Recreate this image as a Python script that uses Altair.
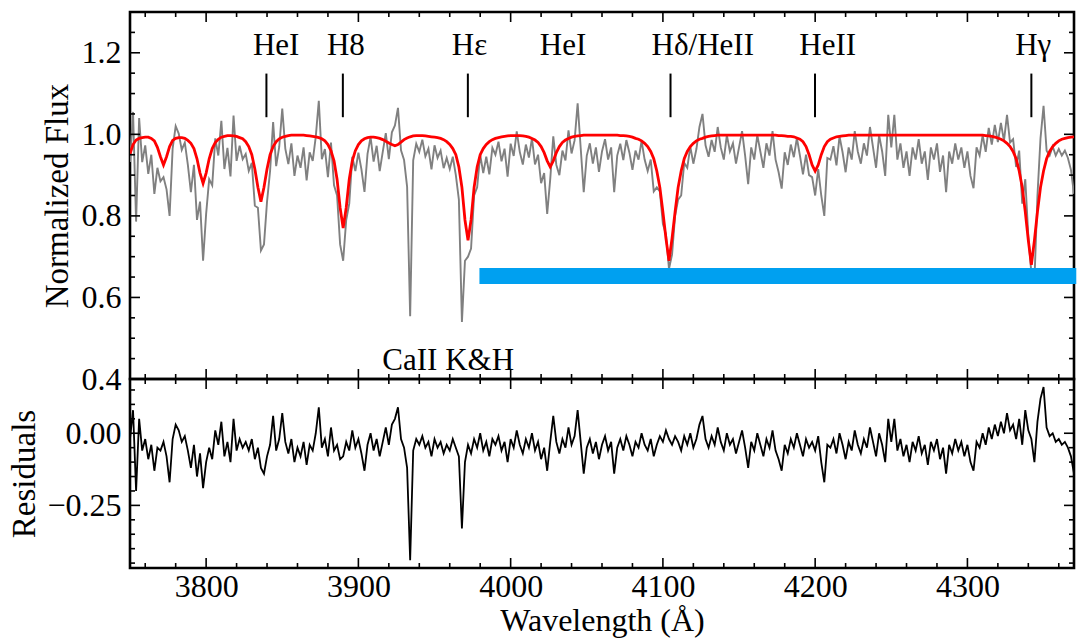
import altair as alt
import pandas as pd

# ---------------- data ----------------
WL_START = 3750   # first sampled wavelength (Angstrom)
WL_STEP = 2       # sampling step (Angstrom)

# best-fit model (red line), one value per sample
model = [
    0.952, 0.975, 0.986, 0.990, 0.992, 0.993, 0.993, 0.990, 0.984, 0.968,
    0.945, 0.925, 0.945, 0.970, 0.985, 0.990, 0.992, 0.992, 0.990, 0.985,
    0.978, 0.965, 0.940, 0.905, 0.880, 0.905, 0.940, 0.965, 0.980, 0.988,
    0.993, 0.995, 0.997, 0.997, 0.996, 0.995, 0.992, 0.989, 0.982, 0.970,
    0.950, 0.915, 0.870, 0.835, 0.870, 0.915, 0.950, 0.970, 0.982, 0.989,
    0.993, 0.995, 0.997, 0.998, 0.998, 0.998, 0.998, 0.998, 0.997, 0.996,
    0.995, 0.994, 0.992, 0.989, 0.984, 0.975, 0.960, 0.935, 0.890, 0.820,
    0.770, 0.820, 0.890, 0.935, 0.960, 0.975, 0.984, 0.989, 0.992, 0.993,
    0.993, 0.992, 0.990, 0.987, 0.983, 0.979, 0.975, 0.972, 0.975, 0.981,
    0.987, 0.991, 0.994, 0.996, 0.997, 0.997, 0.997, 0.996, 0.995, 0.994,
    0.993, 0.992, 0.990, 0.987, 0.982, 0.975, 0.965, 0.950, 0.920, 0.870,
    0.790, 0.740, 0.790, 0.870, 0.920, 0.950, 0.965, 0.975, 0.982, 0.987,
    0.990, 0.992, 0.994, 0.995, 0.996, 0.997, 0.997, 0.997, 0.997, 0.996,
    0.995, 0.993, 0.990, 0.986, 0.980, 0.970, 0.955, 0.935, 0.920, 0.935,
    0.955, 0.970, 0.980, 0.986, 0.990, 0.993, 0.995, 0.996, 0.997, 0.998,
    0.998, 0.998, 0.998, 0.998, 0.998, 0.998, 0.998, 0.998, 0.998, 0.998,
    0.998, 0.997, 0.997, 0.996, 0.995, 0.993, 0.990, 0.988, 0.984, 0.978,
    0.970, 0.958, 0.940, 0.910, 0.870, 0.810, 0.745, 0.690, 0.745, 0.810,
    0.870, 0.910, 0.940, 0.958, 0.970, 0.978, 0.984, 0.988, 0.990, 0.993,
    0.995, 0.996, 0.997, 0.998, 0.998, 0.998, 0.998, 0.998, 0.998, 0.998,
    0.998, 0.998, 0.998, 0.998, 0.998, 0.998, 0.998, 0.998, 0.998, 0.998,
    0.998, 0.998, 0.998, 0.997, 0.997, 0.996, 0.995, 0.995, 0.994, 0.991,
    0.988, 0.982, 0.970, 0.950, 0.925, 0.910, 0.925, 0.950, 0.970, 0.982,
    0.988, 0.991, 0.994, 0.995, 0.996, 0.997, 0.998, 0.998, 0.998, 0.998,
    0.998, 0.998, 0.998, 0.998, 0.998, 0.998, 0.998, 0.998, 0.998, 0.998,
    0.998, 0.998, 0.998, 0.998, 0.998, 0.998, 0.998, 0.998, 0.998, 0.998,
    0.998, 0.998, 0.998, 0.998, 0.998, 0.998, 0.998, 0.998, 0.998, 0.998,
    0.998, 0.998, 0.998, 0.998, 0.998, 0.998, 0.998, 0.998, 0.998, 0.998,
    0.998, 0.997, 0.996, 0.995, 0.993, 0.991, 0.988, 0.984, 0.978, 0.970,
    0.958, 0.940, 0.910, 0.870, 0.810, 0.740, 0.680, 0.740, 0.810, 0.870,
    0.910, 0.940, 0.958, 0.970, 0.978, 0.984, 0.988, 0.990, 0.992, 0.993,
    0.994,
]

# residuals (observed - model), one value per sample
residual = [
    -0.02, 0.08, -0.20, 0.05, -0.06, -0.02, -0.09, -0.04, -0.13, -0.05,
    -0.06, -0.03, -0.08, -0.17, -0.02, 0.03, 0.01, -0.03, -0.01, -0.06,
    -0.12, -0.04, -0.15, -0.07, -0.19, -0.10, -0.05, -0.09, 0.01, -0.04,
    0.04, -0.08, -0.03, -0.10, 0.05, -0.06, -0.02, -0.05, -0.03, -0.06,
    -0.02, -0.09, -0.05, -0.12, -0.14, -0.08, -0.04, 0.06, -0.06, -0.02,
    0.07, -0.03, -0.07, -0.02, -0.10, -0.05, -0.08, -0.03, -0.11, -0.04,
    -0.06, 0.00, 0.09, -0.05, -0.02, -0.08, 0.02, -0.06, -0.04, -0.09,
    -0.08, -0.03, -0.06, 0.01, -0.05, -0.02, -0.07, -0.13, -0.04, 0.00,
    -0.06, -0.02, -0.08, -0.03, 0.02, -0.04, 0.03, 0.05, 0.09, -0.02,
    -0.05, -0.12, -0.44, -0.06, -0.02, -0.04, -0.01, -0.05, -0.03, -0.08,
    -0.02, -0.05, -0.03, -0.07, -0.04, -0.06, -0.02, -0.05, -0.08, -0.33,
    -0.10, -0.04, -0.07, -0.02, -0.05, 0.00, -0.06, -0.03, -0.08, -0.02,
    -0.04, -0.01, -0.06, -0.03, -0.10, -0.02, -0.05, 0.01, -0.04, -0.07,
    -0.02, -0.05, 0.00, -0.06, -0.03, -0.09, -0.05, -0.13, -0.03, 0.06,
    -0.03, -0.07, -0.02, -0.05, 0.02, -0.04, -0.01, 0.08, -0.03, -0.14,
    -0.05, -0.02, -0.07, -0.03, -0.09, -0.04, -0.01, -0.06, -0.03, -0.14,
    -0.05, -0.02, -0.06, -0.01, -0.04, -0.08, -0.03, -0.05, 0.00, -0.04,
    -0.06, -0.02, -0.08, -0.04, -0.01, -0.03, 0.01, -0.02, -0.04, -0.01,
    -0.03, -0.06, -0.01, -0.04, 0.00, -0.05, -0.02, 0.03, 0.06, -0.02,
    -0.05, -0.01, -0.04, 0.02, -0.03, -0.06, 0.00, -0.04, -0.02, -0.07,
    -0.03, 0.01, -0.05, -0.12, -0.03, -0.06, 0.00, -0.04, -0.08, -0.02,
    -0.05, 0.01, -0.06, -0.09, -0.13, -0.04, -0.07, -0.02, -0.05, 0.00,
    -0.04, -0.08, -0.02, -0.05, -0.03, -0.06, -0.01, -0.10, -0.17, -0.04,
    -0.05, -0.02, -0.07, 0.00, -0.04, -0.09, -0.03, -0.06, 0.01, -0.04,
    -0.07, -0.02, -0.05, 0.02, -0.03, -0.08, 0.00, -0.04, -0.10, 0.05,
    -0.03, 0.05, -0.06, -0.02, -0.08, -0.04, -0.10, -0.03, -0.06, -0.01,
    -0.07, -0.04, -0.11, -0.03, -0.06, -0.02, -0.09, -0.05, -0.14, -0.04,
    -0.07, -0.02, -0.06, -0.03, -0.08, -0.04, -0.10, -0.13, -0.03, -0.05,
    0.00, -0.04, 0.02, -0.02, 0.03, -0.01, 0.04, 0.00, 0.07, 0.01,
    0.03, -0.02, 0.05, -0.04, 0.08, 0.01, -0.02, -0.10, 0.04, 0.12,
    0.16, 0.02, -0.01, 0.00, -0.03, -0.02, -0.04, -0.03, -0.05, -0.08,
    -0.14,
]

wavelength = [WL_START + WL_STEP * i for i in range(len(model))]

# line identifications
marker_wl = [3839.6, 3889.8, 3971.9, 4105.0, 4199.9, 4342.0]
label_names = ["HeI", "H8", "Hε", "HeI", "Hδ/HeII", "HeII", "Hγ"]
label_wl = [3846.0, 3891.8, 3973.0, 4034.4, 4126.2, 4208.2, 4343.2]
caii_name = ["CaII K&H"]
caii_wl = [3959.0]

# blue bar annotation (a filled band)
bar_start = [3979.5]
bar_end = [4371.5]
bar_low = [0.633]
bar_high = [0.672]

# axis ticks
x_major = [3800, 3900, 4000, 4100, 4200, 4300]
x_minor = [3760, 3780, 3820, 3840, 3860, 3880, 3920, 3940, 3960, 3980,
           4020, 4040, 4060, 4080, 4120, 4140, 4160, 4180, 4220, 4240,
           4260, 4280, 4320, 4340, 4360]
top_y_major = [0.4, 0.6, 0.8, 1.0, 1.2]
top_y_minor = [0.45, 0.5, 0.55, 0.65, 0.7, 0.75, 0.85, 0.9, 0.95,
               1.05, 1.1, 1.15, 1.25]
bot_y_major = [-0.25, 0.0]
bot_y_minor = [-0.45, -0.4, -0.35, -0.3, -0.2, -0.15, -0.1, -0.05,
               0.05, 0.1, 0.15]

X_DOMAIN = [3750, 4370]
TOP_DOMAIN = [0.4, 1.3]
BOT_DOMAIN = [-0.467, 0.188]

FONT = "Liberation Serif"
W = 944
H_TOP = 367
H_BOT = 189
MAJOR_LEN = 10
MINOR_LEN = 5

# ---------------- chart ----------------
spec = pd.DataFrame({"wl": wavelength, "model": model, "resid": residual})

xscale = alt.Scale(domain=X_DOMAIN, nice=False, zero=False)
ytop = alt.Scale(domain=TOP_DOMAIN, nice=False, zero=False)
ybot = alt.Scale(domain=BOT_DOMAIN, nice=False, zero=False)

x_axis_bot = alt.Axis(values=x_major, format="d", ticks=False, domain=False,
                      grid=False, labelFont=FONT, labelFontSize=32,
                      labelColor="black", labelPadding=3, labelFlush=False,
                      titleFont=FONT, titleFontSize=32, titleFontWeight="normal",
                      titleColor="black", titlePadding=3)
y_axis_top = alt.Axis(values=top_y_major, format=".1f", ticks=False, domain=False,
                      grid=False, labelFont=FONT, labelFontSize=32,
                      labelColor="black", labelPadding=9,
                      titleFont=FONT, titleFontSize=33, titleFontWeight="normal",
                      titleColor="black", titlePadding=7)
y_axis_bot = alt.Axis(values=bot_y_major, format=".2f", ticks=False, domain=False,
                      grid=False, labelFont=FONT, labelFontSize=32,
                      labelColor="black", labelPadding=9,
                      titleFont=FONT, titleFontSize=33, titleFontWeight="normal",
                      titleColor="black", titlePadding=5)

TOP_X = dict(axis=None)
BOT_X = dict(axis=x_axis_bot, title="Wavelength (Å)")
TOP_Y = dict(axis=y_axis_top, title="Normalized Flux")
BOT_Y = dict(axis=y_axis_bot, title="Residuals")


def frame_ticks(yscale, ydomain, ymaj, ymin, xopts, yopts):
    """Inward-pointing ticks on all four sides of a panel."""
    layers = []
    for vals, ln in ((x_major, MAJOR_LEN), (x_minor, MINOR_LEN)):
        d = pd.DataFrame({"v": vals})
        for yv, sign in ((ydomain[0], -1), (ydomain[1], 1)):
            layers.append(
                alt.Chart(d).mark_tick(orient="vertical", size=ln,
                                       yOffset=sign * ln / 2,
                                       thickness=1.6, color="black", opacity=1)
                .encode(x=alt.X("v:Q", scale=xscale, **xopts),
                        y=alt.YDatum(yv, **yopts)))
    for vals, ln in ((ymaj, MAJOR_LEN), (ymin, MINOR_LEN)):
        d = pd.DataFrame({"v": vals})
        for xv, sign in ((X_DOMAIN[0], 1), (X_DOMAIN[1], -1)):
            layers.append(
                alt.Chart(d).mark_tick(orient="horizontal", size=ln,
                                       xOffset=sign * ln / 2,
                                       thickness=1.6, color="black", opacity=1)
                .encode(y=alt.Y("v:Q", scale=yscale, **yopts),
                        x=alt.XDatum(xv, **xopts)))
    return layers


base = alt.Chart(spec).transform_calculate(flux="datum.model + datum.resid")

gray = base.mark_line(color="#808080", strokeWidth=1.9, clip=True).encode(
    x=alt.X("wl:Q", scale=xscale, **TOP_X),
    y=alt.Y("flux:Q", scale=ytop, **TOP_Y),
)
red = base.mark_line(color="#ff0000", strokeWidth=2.8, clip=True).encode(
    x=alt.X("wl:Q", scale=xscale, **TOP_X),
    y=alt.Y("model:Q", scale=ytop, **TOP_Y),
)

markers = alt.Chart(pd.DataFrame({"wl": marker_wl})).mark_rule(
    color="black", strokeWidth=2).encode(
    x=alt.X("wl:Q", scale=xscale, **TOP_X),
    y=alt.YDatum(1.042, **TOP_Y), y2=alt.datum(1.149))

labels = alt.Chart(pd.DataFrame({"wl": label_wl, "name": label_names})).mark_text(
    font=FONT, fontSize=31, color="black", baseline="alphabetic", align="center").encode(
    x=alt.X("wl:Q", scale=xscale, **TOP_X),
    y=alt.YDatum(1.195, **TOP_Y), text="name:N")

caii = alt.Chart(pd.DataFrame({"wl": caii_wl, "name": caii_name})).mark_text(
    font=FONT, fontSize=31, color="black", baseline="alphabetic", align="center").encode(
    x=alt.X("wl:Q", scale=xscale, **TOP_X),
    y=alt.YDatum(0.421, **TOP_Y), text="name:N")

bar = alt.Chart(pd.DataFrame({"s": bar_start, "e": bar_end,
                              "lo": bar_low, "hi": bar_high})).mark_rect(
    color="#00a0f0", clip=False, strokeWidth=0).encode(
    x=alt.X("s:Q", scale=xscale, **TOP_X),
    x2="e:Q",
    y=alt.Y("lo:Q", scale=ytop, **TOP_Y),
    y2="hi:Q")

top = alt.layer(
    gray, red, markers, labels, caii,
    *frame_ticks(ytop, TOP_DOMAIN, top_y_major, top_y_minor, TOP_X, TOP_Y),
    bar,
).properties(width=W, height=H_TOP)

resid_line = alt.Chart(spec).mark_line(color="black", strokeWidth=1.8, clip=True).encode(
    x=alt.X("wl:Q", scale=xscale, **BOT_X),
    y=alt.Y("resid:Q", scale=ybot, **BOT_Y),
)

bottom = alt.layer(
    resid_line,
    *frame_ticks(ybot, BOT_DOMAIN, bot_y_major, bot_y_minor, BOT_X, BOT_Y),
).properties(width=W, height=H_BOT)

chart = alt.vconcat(top, bottom, spacing=0, bounds="flush").properties(
    padding={"left": 7, "top": 10, "right": 0, "bottom": 0},
    background="white",
).configure_view(stroke="black", strokeWidth=2.6).configure_axis(grid=False)

chart.save("out.html", embed_options={"renderer": "svg", "actions": False})
